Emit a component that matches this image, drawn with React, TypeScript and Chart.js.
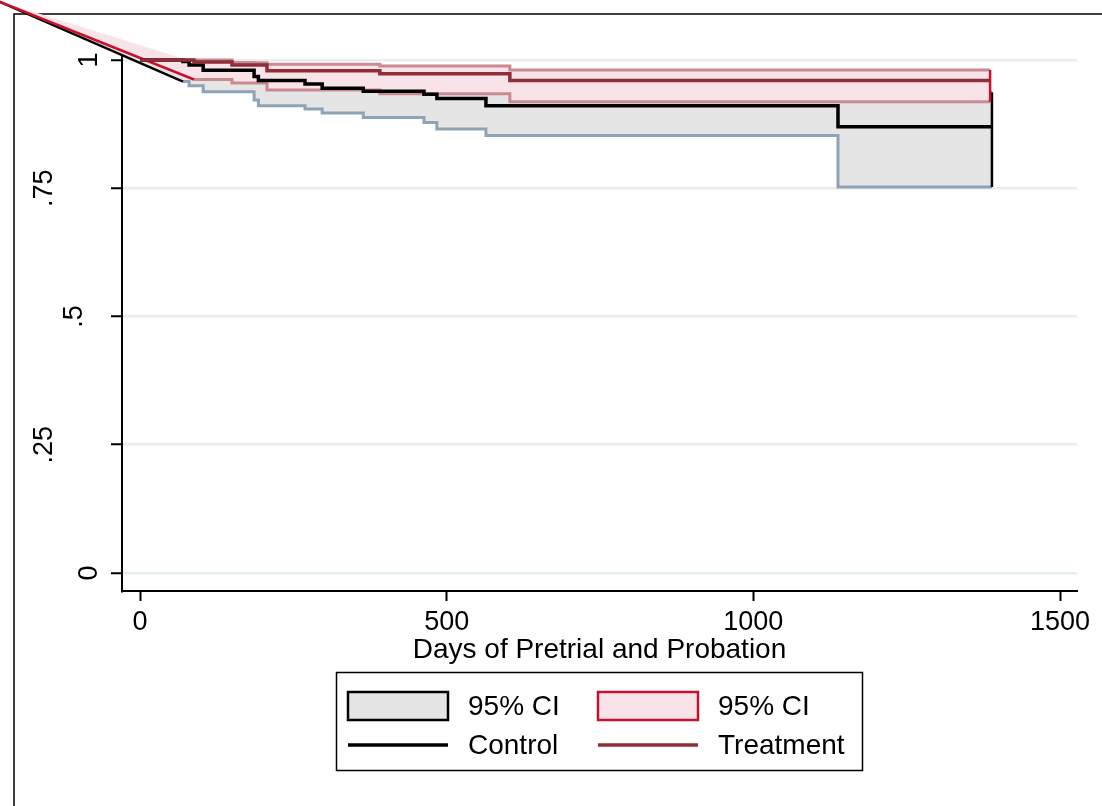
import React, { useEffect, useRef } from 'react';
import { Chart, registerables } from 'chart.js';

Chart.register(...registerables);

const FONT = '"Liberation Sans", Arial, Helvetica, sans-serif';

// ---- axes ----
const xTicks = [0, 500, 1000, 1500];
const yTicks = [0, 0.25, 0.5, 0.75, 1];
const yTickLabels = ['0', '.25', '.5', '.75', '1'];
const xMin = -29.4;
const xMax = 1527.7;
const yMin = -0.0351;
const yMax = 1.0331;
const xTitle = 'Days of Pretrial and Probation';
const legendLabels = ['95% CI', '95% CI', 'Control', 'Treatment'];

// point (off the plot, top-left) where the band outlines converge
const ciOriginDay = -236;
const ciOriginSurv = 1.117;

// ---- Control group ----
const ctrlDays = [0, 70, 80, 103, 186, 193, 269, 297, 364, 463, 484, 564, 1138, 1389];
const ctrlSurv = [1, 0.997, 0.99, 0.98, 0.968, 0.96, 0.953, 0.945, 0.939, 0.933, 0.925, 0.911, 0.87, 0.87];
const ctrlCiDays = [70, 80, 103, 186, 193, 269, 297, 364, 463, 484, 564, 1138, 1389];
const ctrlUpper = [1.0, 0.999, 0.995, 0.988, 0.983, 0.978, 0.972, 0.968, 0.963, 0.958, 0.948, 0.937, 0.937];
const ctrlLower = [0.958, 0.95, 0.938, 0.922, 0.911, 0.9045, 0.8967, 0.888, 0.878, 0.8655, 0.853, 0.7524, 0.7524];

// ---- Treatment group ----
const trtDays = [0, 88, 150, 207, 391, 603, 1386];
const trtSurv = [1, 0.996, 0.99, 0.979, 0.973, 0.96, 0.96];
const trtUpperDays = [78, 150, 207, 391, 603, 1386];
const trtUpper = [1.0, 0.9947, 0.9916, 0.9883, 0.9805, 0.9805];
const trtLowerDays = [88, 150, 207, 391, 603, 1386];
const trtLower = [0.962, 0.955, 0.9415, 0.934, 0.9187, 0.9187];

// ---- colours ----
const GREY_FILL = '#e5e5e5';
const BLUE_GREY = '#8ea3b7';
const PINK_FILL = '#f8e4e8';
const PINK_LINE = '#c98a92';
const CRIMSON = '#c8102e';
const DARK_RED = '#8f2d38';

type P = { x: number; y: number };
const pts = (d: number[], v: number[]): P[] => d.map((x, i) => ({ x, y: v[i] }));
const stepVerts = (d: number[], v: number[]): P[] => {
  const out: P[] = [{ x: d[0], y: v[0] }];
  for (let i = 1; i < d.length; i++) {
    out.push({ x: d[i], y: v[i - 1] });
    out.push({ x: d[i], y: v[i] });
  }
  return out;
};
const origin: P = { x: ciOriginDay, y: ciOriginSurv };

const bandPlugin = {
  id: 'bandPoly',
  beforeDraw(chart: any) {
    const ctx = chart.ctx;
    ctx.save();
    ctx.fillStyle = '#fff';
    ctx.fillRect(0, 0, chart.width, chart.height);
    ctx.strokeStyle = '#000';
    ctx.lineWidth = 1.5;
    ctx.beginPath();
    ctx.moveTo(14, chart.height);
    ctx.lineTo(14, 14);
    ctx.lineTo(chart.width, 14);
    ctx.stroke();
    ctx.restore();
  },
  beforeDatasetDraw(chart: any, args: any) {
    const ds = chart.data.datasets[args.index];
    if (!ds.polyFill) return;
    const ctx = chart.ctx;
    const el = args.meta.data;
    ctx.save();
    ctx.beginPath();
    el.forEach((p: any, i: number) => (i ? ctx.lineTo(p.x, p.y) : ctx.moveTo(p.x, p.y)));
    ctx.closePath();
    ctx.fillStyle = ds.polyFill;
    ctx.fill();
    ctx.restore();
  },
  afterDraw(chart: any) {
    const ctx = chart.ctx;
    const ys = chart.scales.y;
    const area = chart.chartArea;
    ctx.save();
    ctx.fillStyle = '#000';
    // rotated y tick labels
    ctx.font = `27px ${FONT}`;
    yTicks.forEach((v, i) => {
      const lab = yTickLabels[i];
      const py = ys.getPixelForValue(v);
      const w = ctx.measureText(lab).width;
      const cx = area.left - 2 - 2.0 * w;
      ctx.save();
      ctx.translate(cx, py);
      ctx.rotate(-Math.PI / 2);
      ctx.textAlign = 'center';
      ctx.textBaseline = 'middle';
      ctx.fillText(lab, 0, 0);
      ctx.restore();
    });
    // x title
    ctx.font = `28px ${FONT}`;
    ctx.textAlign = 'center';
    ctx.textBaseline = 'middle';
    ctx.fillText(xTitle, (area.left + area.right) / 2, 650);

    // legend
    const bx = 336, by = 672, bw = 526, bh = 98;
    ctx.lineWidth = 1.5;
    ctx.strokeStyle = '#000';
    ctx.strokeRect(bx + 0.5, by + 0.5, bw, bh);
    const r1 = 706, r2 = 745;
    ctx.lineWidth = 2.5;
    ctx.fillStyle = GREY_FILL;
    ctx.fillRect(348, r1 - 14, 100, 28);
    ctx.strokeStyle = '#000';
    ctx.strokeRect(348, r1 - 14, 100, 28);
    ctx.fillStyle = PINK_FILL;
    ctx.fillRect(598, r1 - 14, 100, 28);
    ctx.strokeStyle = CRIMSON;
    ctx.strokeRect(598, r1 - 14, 100, 28);
    ctx.lineWidth = 3.5;
    ctx.strokeStyle = '#000';
    ctx.beginPath();
    ctx.moveTo(348, r2);
    ctx.lineTo(448, r2);
    ctx.stroke();
    ctx.strokeStyle = DARK_RED;
    ctx.beginPath();
    ctx.moveTo(598, r2);
    ctx.lineTo(698, r2);
    ctx.stroke();
    ctx.fillStyle = '#000';
    ctx.textAlign = 'left';
    ctx.font = `28px ${FONT}`;
    ctx.fillText(legendLabels[0], 468, r1 + 1);
    ctx.fillText(legendLabels[1], 718, r1 + 1);
    ctx.fillText(legendLabels[2], 468, r2 + 1);
    ctx.fillText(legendLabels[3], 718, r2 + 1);
    ctx.restore();
  },
};

export default function App() {
  const ref = useRef<HTMLCanvasElement>(null);
  useEffect(() => {
    const canvas = ref.current;
    if (!canvas) return;
    const lastC = ctrlCiDays.length - 1;
    const lastT = trtUpperDays.length - 1;
    const base = { pointRadius: 0, pointHoverRadius: 0, fill: false, tension: 0 };
    const datasets: any[] = [
      {
        ...base,
        label: 'ctrlBand',
        data: [origin, ...stepVerts(ctrlCiDays, ctrlUpper), ...stepVerts(ctrlCiDays, ctrlLower).reverse()],
        showLine: false,
        polyFill: GREY_FILL,
        order: 20,
        clip: false,
      },
      { ...base, label: 'ctrlUpper', data: pts(ctrlCiDays, ctrlUpper), stepped: 'before', borderColor: BLUE_GREY, borderWidth: 3, order: 19 },
      { ...base, label: 'ctrlLower', data: pts(ctrlCiDays, ctrlLower), stepped: 'before', borderColor: BLUE_GREY, borderWidth: 3, order: 19 },
      { ...base, label: 'ctrlEdgeL', data: [origin, { x: ctrlCiDays[0], y: ctrlLower[0] }], borderColor: '#000', borderWidth: 2.5, order: 18, clip: false },
      { ...base, label: 'ctrlEdgeR', data: [{ x: ctrlCiDays[lastC], y: ctrlUpper[lastC] }, { x: ctrlCiDays[lastC], y: ctrlLower[lastC] }], borderColor: '#000', borderWidth: 2.5, order: 18, clip: false },
      {
        ...base,
        label: 'trtBand',
        data: [origin, ...stepVerts(trtUpperDays, trtUpper), ...stepVerts(trtLowerDays, trtLower).reverse()],
        showLine: false,
        polyFill: PINK_FILL,
        order: 17,
        clip: false,
      },
      { ...base, label: 'trtUpper', data: pts(trtUpperDays, trtUpper), stepped: 'before', borderColor: PINK_LINE, borderWidth: 3, order: 16 },
      { ...base, label: 'trtLower', data: pts(trtLowerDays, trtLower), stepped: 'before', borderColor: PINK_LINE, borderWidth: 3, order: 16 },
      { ...base, label: 'trtEdgeL', data: [origin, { x: trtLowerDays[0], y: trtLower[0] }], borderColor: CRIMSON, borderWidth: 2.5, order: 15, clip: false },
      { ...base, label: 'trtEdgeR', data: [{ x: trtUpperDays[lastT], y: trtUpper[lastT] }, { x: trtLowerDays[lastT], y: trtLower[lastT] }], borderColor: CRIMSON, borderWidth: 2.5, order: 15, clip: false },
      { ...base, label: 'Control', data: pts(ctrlDays, ctrlSurv), stepped: 'before', borderColor: '#000', borderWidth: 3.5, order: 14 },
      { ...base, label: 'Treatment', data: pts(trtDays, trtSurv), stepped: 'before', borderColor: DARK_RED, borderWidth: 3.5, order: 13 },
    ];

    const chart = new Chart(canvas, {
      type: 'line',
      data: { datasets },
      options: {
        responsive: false,
        animation: false,
        devicePixelRatio: 1,
        layout: { padding: { top: 43, right: 25, left: 0, bottom: 0 } },
        plugins: { legend: { display: false }, tooltip: { enabled: false } },
        events: [],
        scales: {
          x: {
            type: 'linear',
            min: xMin,
            max: xMax,
            afterBuildTicks: (s: any) => {
              s.ticks = xTicks.map((v) => ({ value: v }));
            },
            afterFit: (s: any) => {
              s.height = 215;
            },
            grid: { drawOnChartArea: false, drawTicks: true, tickLength: 10, tickColor: '#000', tickWidth: 2 },
            border: { display: true, color: '#000', width: 2 },
            ticks: {
              color: '#000',
              font: { family: FONT, size: 27 },
              padding: 5,
              maxRotation: 0,
              autoSkip: false,
              callback: (v: any) => String(v),
            },
          },
          y: {
            type: 'linear',
            min: yMin,
            max: yMax,
            afterBuildTicks: (s: any) => {
              s.ticks = yTicks.map((v) => ({ value: v }));
            },
            afterFit: (s: any) => {
              s.width = 122;
            },
            grid: { color: '#e6eef0', lineWidth: 2.5, drawTicks: true, tickLength: 11, tickColor: '#000', tickWidth: 2 },
            border: { display: true, color: '#000', width: 2 },
            ticks: { display: false },
          },
        },
      } as any,
      plugins: [bandPlugin],
    });
    return () => chart.destroy();
  }, []);

  return (
    <div style={{ position: 'fixed', left: 0, top: 0, width: 1102, height: 806, background: '#fff' }}>
      <canvas ref={ref} width={1102} height={806} style={{ display: 'block', width: 1102, height: 806 }} />
    </div>
  );
}
